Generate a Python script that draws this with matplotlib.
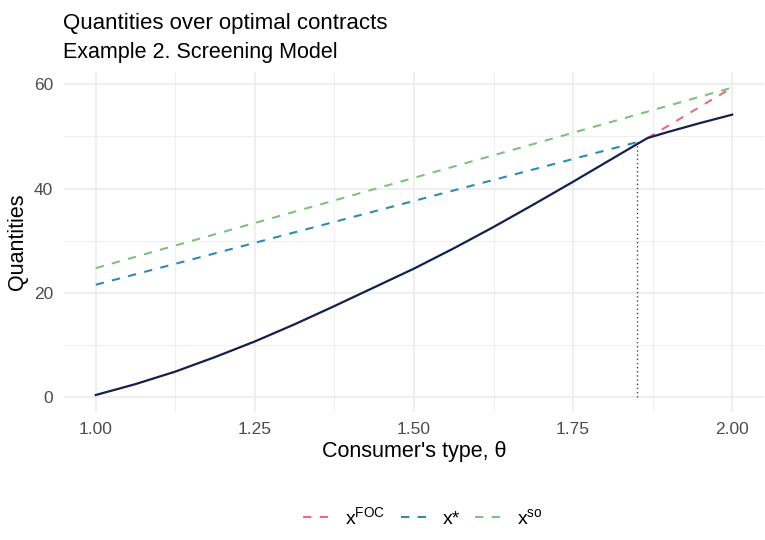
import numpy as np
import matplotlib.pyplot as plt

plt.rcParams['font.family'] = ['Liberation Sans', 'DejaVu Sans']
plt.rcParams['mathtext.default'] = 'regular'

## data
theta_path = [1.0, 1.0625, 1.125, 1.1875, 1.25, 1.3125, 1.375, 1.4375, 1.5,
              1.5625, 1.625, 1.6875, 1.75, 1.8125, 1.85, 1.867, 1.9, 1.95, 2.0]
x_path = [0.3, 2.4, 4.8, 7.6, 10.6, 13.9, 17.4, 21.0, 24.6,
          28.5, 32.6, 36.9, 41.3, 45.8, 48.5, 49.7, 50.9, 52.6, 54.2]

theta_foc = [1.867, 2.0]
x_foc = [49.7, 59.4]

theta_star = [1.0, 1.85]
x_star = [21.5, 48.9]

theta_so = [1.0, 2.0]
x_so = [24.7, 59.4]

theta_cut = 1.85
x_cut = 48.9

c_foc, c_star, c_so, c_path = "#E5707C", "#2E8BB8", "#82BF82", "#141F4D"

fig = plt.figure(figsize=(7.65, 5.4), dpi=100)
ax = fig.add_axes([64/765, 1 - 412/540, 700/765, 340/540])

dash = (4, 4)
ax.plot(theta_foc, x_foc, color=c_foc, lw=1.5, dashes=dash, label="$x^{FOC}$", zorder=3)
ax.plot(theta_star, x_star, color=c_star, lw=1.5, dashes=dash, label="x*", zorder=3)
ax.plot(theta_so, x_so, color=c_so, lw=1.5, dashes=dash, label="$x^{so}$", zorder=3)
ax.plot(theta_path, x_path, color=c_path, lw=1.6, zorder=4)
ax.plot([theta_cut, theta_cut], [0, x_cut], color="#444444", lw=1.0, dashes=(1, 2), zorder=2)

ax.set_xlim(0.95, 2.05)
ax.set_ylim(-2.97, 62.4)
ax.set_xticks([1.0, 1.25, 1.5, 1.75, 2.0])
ax.set_xticklabels(["1.00", "1.25", "1.50", "1.75", "2.00"])
ax.set_xticks([1.125, 1.375, 1.625, 1.875], minor=True)
ax.set_yticks([0, 20, 40, 60])
ax.set_yticks([10, 30, 50], minor=True)

ax.grid(which="major", color="#EBEBEB", lw=1.1)
ax.grid(which="minor", color="#EBEBEB", lw=0.55)
ax.set_axisbelow(True)
for s in ax.spines.values():
    s.set_visible(False)
ax.tick_params(which="both", length=0, labelsize=12.5, labelcolor="#4D4D4D")
ax.tick_params(axis="x", pad=7)
ax.tick_params(axis="y", pad=8)

ax.set_xlabel("Consumer's type, θ", fontsize=15.5, labelpad=3)
ax.set_ylabel("Quantities", fontsize=15.5, labelpad=4)

fig.text(63/765, 1 - 29/540, "Quantities over optimal contracts", fontsize=16, va="baseline")
fig.text(63/765, 1 - 58/540, "Example 2. Screening Model", fontsize=15.5, va="baseline")

h, l = ax.get_legend_handles_labels()
fig.legend(h, l, loc="center", bbox_to_anchor=(0.553, 1 - 517/540), ncol=3, frameon=False,
           fontsize=14, handlelength=1.35, handletextpad=0.8, columnspacing=0.8)

fig.savefig("out.png", dpi=100)
